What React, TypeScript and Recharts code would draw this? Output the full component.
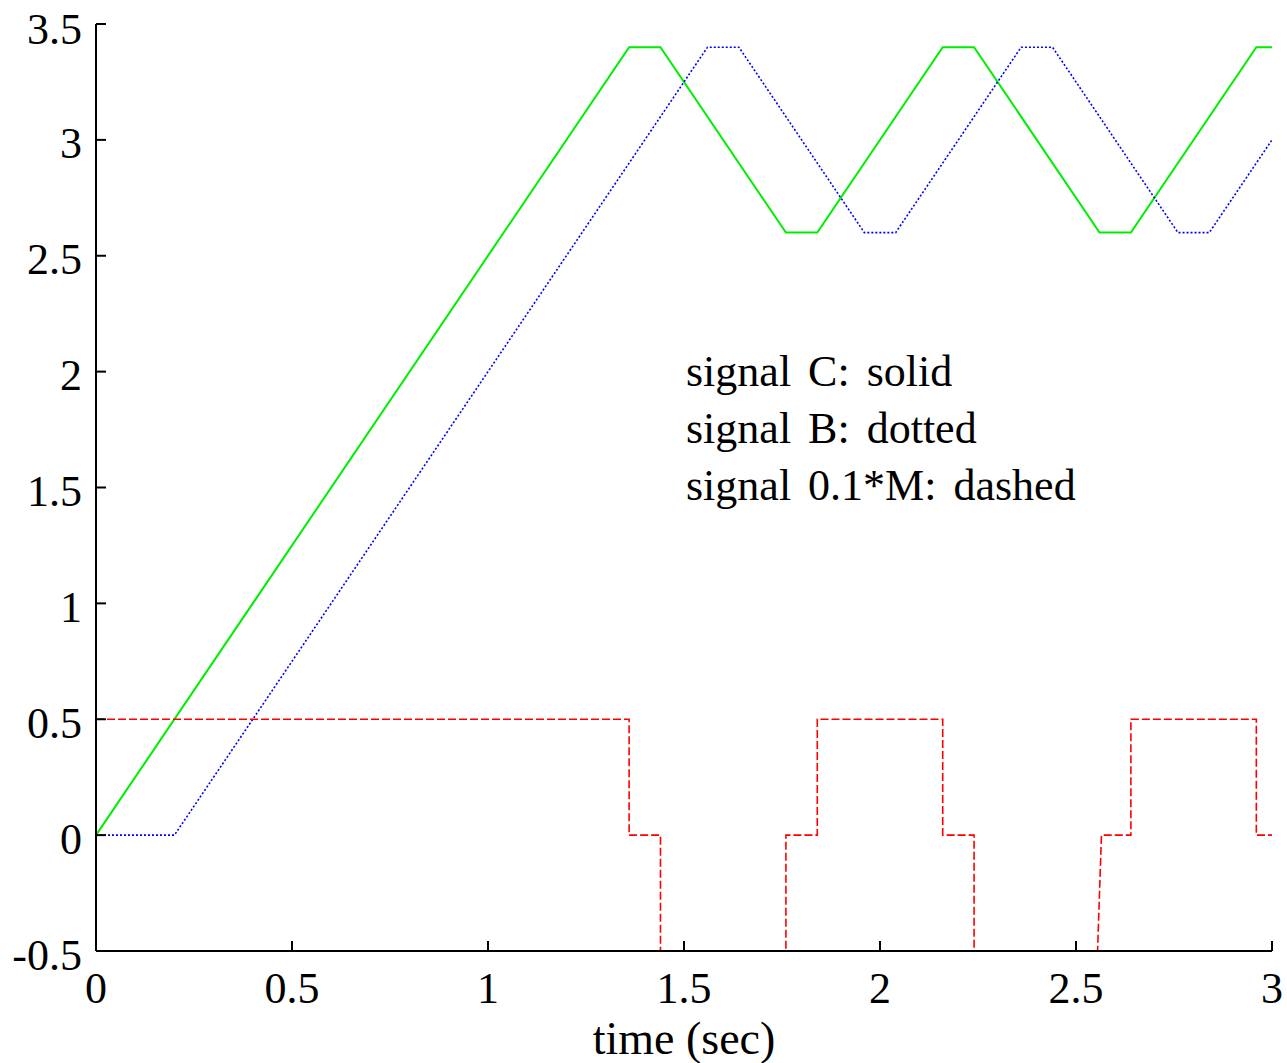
import React from "react";
import { LineChart, Line, XAxis, YAxis } from "recharts";

// signal C (solid green): ramp up, then triangle between 2.6 and 3.4
const cTime = [0, 1.36, 1.44, 1.76, 1.84, 2.16, 2.24, 2.56, 2.64, 2.96, 3];
const cValue = [0, 3.4, 3.4, 2.6, 2.6, 3.4, 3.4, 2.6, 2.6, 3.4, 3.4];

// signal B (dotted blue): C delayed by about 0.2 s
const bTime = [0, 0.2, 1.56, 1.64, 1.96, 2.04, 2.36, 2.44, 2.76, 2.84, 3];
const bValue = [0, 0, 3.4, 3.4, 2.6, 2.6, 3.4, 3.4, 2.6, 2.6, 3.0];

// signal 0.1*M (dashed red)
const mTime = [
  0, 1.36, 1.36, 1.44, 1.44, 1.76, 1.76, 1.84, 1.84, 2.16, 2.16, 2.24, 2.24,
  2.555, 2.565, 2.64, 2.64, 2.96, 2.96, 3,
];
const mValue = [
  0.5, 0.5, 0, 0, -0.5, -0.5, 0, 0, 0.5, 0.5, 0, 0, -0.5, -0.5, 0, 0, 0.5, 0.5,
  0, 0,
];

const xTicks = [0, 0.5, 1, 1.5, 2, 2.5, 3];
const yTicks = [-0.5, 0, 0.5, 1, 1.5, 2, 2.5, 3, 3.5];
const legendLines = [
  "signal C: solid",
  "signal B: dotted",
  "signal 0.1*M: dashed",
];

const toRows = (ts: number[], vs: number[]) =>
  ts.map((t, i) => ({ t, v: vs[i] }));

const cData = toRows(cTime, cValue);
const bData = toRows(bTime, bValue);
const mData = toRows(mTime, mValue);

const FONT = "'Liberation Serif', 'Times New Roman', serif";
const frame = { stroke: "#000", strokeWidth: 2 };
const tickFont = { fill: "#000", fontSize: 44 };

export default function App() {
  return (
    <div
      style={{
        position: "absolute",
        left: 0,
        top: 0,
        width: 1287,
        height: 1063,
        background: "#fff",
        fontFamily: FONT,
      }}
    >
      <LineChart
        width={1287}
        height={1063}
        margin={{ top: 24, right: 15, left: 0, bottom: 0 }}
      >
        <XAxis
          xAxisId="bottom"
          dataKey="t"
          type="number"
          domain={[0, 3]}
          ticks={xTicks}
          allowDataOverflow
          height={112}
          axisLine={frame}
          tickLine={frame}
          tickSize={-10}
          tickMargin={31}
          tick={tickFont}
          label={{
            value: "time (sec)",
            position: "insideBottom",
            offset: 9,
            fill: "#000",
            fontSize: 46,
          }}
        />
        <XAxis
          xAxisId="top"
          orientation="top"
          dataKey="t"
          type="number"
          domain={[0, 3]}
          ticks={xTicks}
          allowDataOverflow
          height={0}
          axisLine={frame}
          tickLine={frame}
          tickSize={-10}
          tick={false}
        />
        <YAxis
          yAxisId="left"
          type="number"
          domain={[-0.5, 3.5]}
          ticks={yTicks}
          allowDataOverflow
          width={96}
          axisLine={frame}
          tickLine={frame}
          tickSize={-10}
          tickMargin={24}
          tick={{ ...tickFont, dy: 3 }}
        />
        <YAxis
          yAxisId="right"
          orientation="right"
          type="number"
          domain={[-0.5, 3.5]}
          ticks={yTicks}
          allowDataOverflow
          width={0}
          axisLine={frame}
          tickLine={frame}
          tickSize={-10}
          tick={false}
        />
        <Line
          xAxisId="bottom"
          yAxisId="left"
          data={cData}
          dataKey="v"
          type="linear"
          stroke="#00ee00"
          strokeWidth={2}
          dot={false}
          activeDot={false}
          isAnimationActive={false}
        />
        <Line
          xAxisId="bottom"
          yAxisId="left"
          data={bData}
          dataKey="v"
          type="linear"
          stroke="#0000ff"
          strokeWidth={1.6}
          strokeDasharray="2 2"
          dot={false}
          activeDot={false}
          isAnimationActive={false}
        />
        <Line
          xAxisId="bottom"
          yAxisId="left"
          data={mData}
          dataKey="v"
          type="linear"
          stroke="#ff0000"
          strokeWidth={1.6}
          strokeDasharray="8 3"
          dot={false}
          activeDot={false}
          isAnimationActive={false}
        />
      </LineChart>
      <div
        style={{
          position: "absolute",
          left: 686,
          top: 343,
          fontSize: 44,
          lineHeight: "57px",
          wordSpacing: "6px",
          color: "#000",
          whiteSpace: "nowrap",
        }}
      >
        {legendLines.map((s) => (
          <div key={s}>{s}</div>
        ))}
      </div>
    </div>
  );
}
